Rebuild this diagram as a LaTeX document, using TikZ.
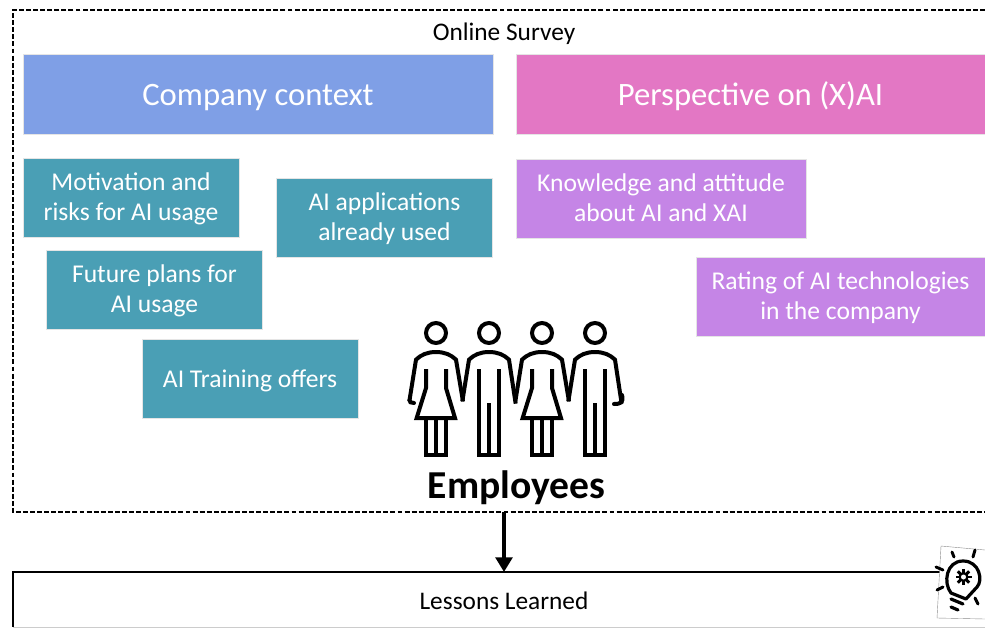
\documentclass[tikz,border=0pt]{standalone}
\usepackage{fontspec}
\setmainfont{Carlito}
\usetikzlibrary{arrows.meta}

\definecolor{blue1}{HTML}{7F9FE6}
\definecolor{pink1}{HTML}{E377C4}
\definecolor{teal1}{HTML}{4A9FB5}
\definecolor{purple1}{HTML}{C585E6}

\tikzset{
  main box/.style={draw=black!10,line width=.3pt,inner sep=0pt,align=center,text=white,font=\fontsize{19.2}{22.5}\selectfont,minimum height=59.25pt,text height=41.2pt,text depth=6pt},
  one line/.style={text height=18.8pt},
  head box/.style={draw=black!10,line width=.3pt,inner sep=0pt,text=white,font=\fontsize{24.5}{28}\selectfont,minimum height=60pt,text height=23.5pt,text depth=7pt},
  frame line/.style={line width=1.1pt},
  figure line/.style={line width=3pt,x=.25pt,y=-.25pt,miter limit=3},
  pics/woman/.style={code={
    \draw[figure line] (0,0) circle (30);
    \draw[figure line] (-80,205) -- (-60,80) .. controls (-45,65) and (-25,57) .. (0,57) .. controls (25,57) and (45,65) .. (60,80) -- (81,205);
    \draw[figure line] (-30,108) -- (-30,165) -- (-58,255) -- (57,255) -- (30,165) -- (30,108);
    \draw[figure line] (-30,255) -- (-30,365) -- (31,365) -- (31,255) (0,255) -- (0,365);
  }},
  pics/man/.style={code={
    \draw[figure line] (0,0) circle (30);
    \draw[figure line] (-80,205) -- (-60,80) .. controls (-45,65) and (-25,57) .. (0,57) .. controls (25,57) and (45,65) .. (60,80) -- (80,212);
    \draw[figure line] (-30,108) -- (-30,365) -- (30,365) -- (30,108) (0,210) -- (0,365);
  }},
}

\begin{document}
\begin{tikzpicture}[x=.75pt,y=-.75pt]
  \useasboundingbox (0,0) rectangle (985,628);

  % survey frame
  \draw[frame line,dash pattern=on 3.7pt off 1.6pt] (985,10) -- (13,10) -- (13,512) -- (985,512);
  \node (survey) at (504,34) {\fontsize{19}{22}\selectfont Online Survey};

  \node[head box,fill=blue1,minimum width=352.5pt] (company) at (258,94) {Company context};
  \node[head box,fill=pink1,minimum width=351.75pt] (perspective) at (750.5,94) {Perspective on (X)AI};

  \node[main box,fill=teal1,minimum width=162pt] (motivation) at (131,197.5) {Motivation and\\risks for AI usage};
  \node[main box,fill=teal1,minimum width=162pt] (applications) at (384.5,217.5) {AI applications\\already used};
  \node[main box,fill=teal1,minimum width=162pt] (plans) at (154.5,289.5) {Future plans for\\AI usage};
  \node[main box,one line,fill=teal1,minimum width=162pt] (training) at (250,378.5) {AI Training offers};

  \node[main box,fill=purple1,minimum width=217.5pt] (knowledge) at (661,198.5) {Knowledge and attitude\\about AI and XAI};
  \node[main box,fill=purple1,minimum width=216.75pt] (rating) at (840.5,296.5) {Rating of AI technologies\\in the company};

  % employees
  \pic at (436,333) {woman};
  \pic at (489,333) {man};
  \pic at (542,333) {woman};
  \pic at (595,333) {man};
  \draw[line width=3pt,line cap=round] (409.5,400) .. controls (409,402) and (411,403) .. (414,403);
  \draw[line width=3pt,line cap=round] (622,395) .. controls (624,403) and (620,404) .. (614,404);
  \node[font=\fontsize{29.7}{34}\selectfont\bfseries] (employees) at (516.5,488) {Employees};

  % lessons learned
  \draw[frame line] (985,572) -- (13,572) -- (13,627);
  \draw[black!20,line width=.6pt] (13,627) -- (985,627);
  \node (lessons) at (504,601) {\fontsize{19}{22}\selectfont Lessons Learned};

  \coordinate (survey out) at (504,512);
  \coordinate (lessons in) at (504,572);
  \draw[line width=3pt,-{Triangle[width=12.5pt,length=11pt]}] (survey out) -- (lessons in);

  % lamp
  \fill[white] (941,546) -- (985,550) -- (985,619) -- (937,618) -- cycle;
  \draw[black!45,line width=.3pt] (985,550) -- (941,546) -- (937,618) -- (985,619);
  \draw[line width=2.4pt,line join=round] (951,593) .. controls (943,583) and (946,561) .. (963,561) .. controls (980,561) and (983,581) .. (977,587) -- (966,599) -- cycle;
  \draw[line width=2.4pt,line cap=round] (951,599) -- (963,604) (951,607) -- (958,610);
  \fill (963.5,577) circle (5);
  \foreach \a in {0,45,...,315}
    \draw[line width=2.2pt] (963.5,577) ++(\a:4) -- ++(\a:4);
  \fill[white] (963.5,577) circle (2.5);
  \draw[line width=2.2pt,line cap=round] (952,552) -- (954,557) (975,550) -- (973,557) (936,567) -- (943,570) (937,590) -- (943,587) (975,598) -- (978,604);
\end{tikzpicture}
\end{document}
